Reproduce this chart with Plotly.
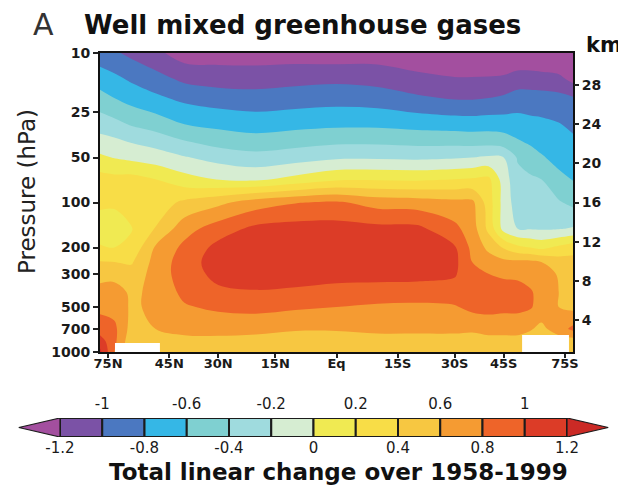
import numpy as np
import plotly.graph_objects as go

# ---------------- data ----------------
lat_deg = [90, 70, 60, 50, 40, 30, 20, 10, 0, -10, -20, -30, -35, -40, -45, -50, -55, -60, -70, -90]
pressure_hpa = [10, 15, 20, 30, 40, 50, 70, 100, 150, 200, 250, 300, 400, 500, 700, 850, 1000]

# total linear change 1958-1999, one profile per latitude (10 hPa -> 1000 hPa)
dT_profiles = [
    [-0.92, -0.69, -0.53, -0.29, -0.11, 0.04, 0.28, 0.22, 0.15, 0.21, 0.41, 0.52, 0.68, 0.75, 0.90, 1.10, 1.25],   # 90N
    [-0.97, -0.75, -0.60, -0.34, -0.14, -0.01, 0.26, 0.22, 0.14, 0.20, 0.40, 0.52, 0.70, 0.72, 0.85, 0.85, 0.80],  # 70N
    [-1.05, -0.83, -0.68, -0.42, -0.20, -0.05, 0.27, 0.30, 0.19, 0.25, 0.38, 0.47, 0.56, 0.57, 0.52, 0.45, 0.40],  # 60N
    [-1.15, -0.92, -0.76, -0.49, -0.26, -0.10, 0.20, 0.30, 0.41, 0.62, 0.67, 0.68, 0.65, 0.64, 0.60, 0.50, 0.45],  # 50N
    [-1.30, -1.04, -0.85, -0.60, -0.37, -0.185, 0.075, 0.44, 0.72, 0.85, 0.90, 0.90, 0.85, 0.78, 0.65, 0.55, 0.50],  # 40N
    [-1.30, -1.08, -0.90, -0.65, -0.46, -0.27, -0.01, 0.55, 0.90, 1.06, 1.10, 1.06, 0.96, 0.84, 0.66, 0.55, 0.50],  # 30N
    [-1.30, -1.09, -0.92, -0.69, -0.50, -0.33, -0.04, 0.70, 1.05, 1.15, 1.16, 1.12, 0.98, 0.87, 0.64, 0.55, 0.50],  # 20N
    [-1.30, -1.06, -0.90, -0.66, -0.46, -0.29, 0.06, 0.79, 1.08, 1.16, 1.16, 1.10, 0.96, 0.83, 0.61, 0.55, 0.52],  # 10N
    [-1.32, -1.04, -0.88, -0.64, -0.42, -0.23, 0.17, 0.83, 1.08, 1.15, 1.15, 1.08, 0.92, 0.80, 0.61, 0.55, 0.50],  # Eq
    [-1.30, -1.07, -0.90, -0.64, -0.42, -0.23, 0.18, 0.72, 1.06, 1.15, 1.15, 1.08, 0.90, 0.77, 0.63, 0.55, 0.50],  # 10S
    [-1.35, -1.14, -0.97, -0.67, -0.44, -0.24, 0.17, 0.70, 1.05, 1.14, 1.14, 1.07, 0.90, 0.76, 0.63, 0.55, 0.50],  # 20S
    [-1.40, -1.18, -1.02, -0.69, -0.44, -0.22, 0.20, 0.66, 0.85, 1.02, 1.05, 1.02, 0.92, 0.78, 0.63, 0.55, 0.50],  # 30S
    [-1.40, -1.18, -1.02, -0.70, -0.45, -0.20, 0.22, 0.65, 0.70, 0.75, 0.80, 0.86, 0.90, 0.86, 0.62, 0.55, 0.50],  # 35S
    [-1.45, -1.17, -1.00, -0.69, -0.45, -0.17, 0.25, 0.30, 0.35, 0.55, 0.70, 0.80, 0.90, 0.88, 0.65, 0.55, 0.50],  # 40S
    [-1.45, -1.15, -0.97, -0.70, -0.48, -0.20, -0.10, -0.08, -0.07, 0.38, 0.65, 0.77, 0.88, 0.86, 0.65, 0.55, 0.50],  # 45S
    [-1.40, -1.10, -0.92, -0.71, -0.57, -0.42, -0.34, -0.30, -0.20, 0.25, 0.65, 0.76, 0.87, 0.86, 0.65, 0.55, 0.50],  # 50S
    [-1.40, -1.10, -0.92, -0.74, -0.62, -0.50, -0.37, -0.31, -0.21, 0.20, 0.65, 0.73, 0.82, 0.82, 0.62, 0.50, 0.50],  # 55S
    [-1.40, -1.12, -0.92, -0.755, -0.66, -0.58, -0.40, -0.31, -0.22, 0.15, 0.60, 0.70, 0.74, 0.72, 0.55, 0.50, 0.50],  # 60S
    [-1.45, -1.14, -0.94, -0.79, -0.72, -0.66, -0.55, -0.38, -0.21, 0.24, 0.50, 0.58, 0.60, 0.60, 0.70, 0.50, 0.50],  # 70S
    [-1.50, -1.26, -0.98, -0.84, -0.76, -0.70, -0.61, -0.45, -0.18, 0.32, 0.47, 0.50, 0.52, 0.55, 0.85, 0.50, 0.50],  # 90S
]

# regions without data near the surface (shown white): latitude span and top pressure
nodata_lat_from = [69.5, -51.7]
nodata_lat_to = [48.3, -79.4]
nodata_p_top = [870, 770]
surface_p = 1000

level_start, level_end, level_step = -1.2, 1.2, 0.2
band_colors = ['#a34f9f', '#7b52a6', '#4b78c1', '#35b7e6', '#7fd0d1', '#9fdbde', '#d6edd2',
               '#f0ea52', '#f8dd47', '#f7c741', '#f59b32', '#ee6429', '#dc3c27', '#cb2a25']

lat_tick_deg = [75, 45, 30, 15, 0, -15, -30, -45, -75]
lat_tick_text = ['75N', '45N', '30N', '15N', 'Eq', '15S', '30S', '45S', '75S']
p_ticks = [10, 25, 50, 100, 200, 300, 500, 700, 1000]
km_ticks = [4, 8, 12, 16, 20, 24, 28]
cbar_low_ticks = [-1.2, -0.8, -0.4, 0, 0.4, 0.8, 1.2]
cbar_high_ticks = [-1, -0.6, -0.2, 0.2, 0.6, 1]

# ---------------- figure ----------------
# the page body adds an 8 px margin; the figure is sized/positioned to compensate
OFF = 8
W, H = 626 - OFF, 493 - OFF
def px_x(p): return (p - OFF) / W
def px_y(p): return 1 - (p - OFF) / H

sin_lat = np.sin(np.radians(lat_deg))
order = np.argsort(sin_lat)
z = np.array(dT_profiles).T[:, order]

nlev = int(round((level_end - level_start) / level_step)) + 1
cscale = [[k / nlev, band_colors[k]] for k in range(nlev + 1)]

TXT = '#1a1a1a'
FONT = 'DejaVu Sans'

fig = go.Figure()
fig.add_trace(go.Contour(
    x=sin_lat[order], y=pressure_hpa, z=z,
    contours=dict(start=level_start, end=level_end, size=level_step,
                  coloring='fill', showlines=False),
    colorscale=cscale, showscale=False,
    line=dict(width=0, smoothing=1.0), hoverinfo='skip'))

# no-data (below surface) areas as white bars from the top pressure down to the surface
s_from = np.sin(np.radians(nodata_lat_from))
s_to = np.sin(np.radians(nodata_lat_to))
fig.add_trace(go.Bar(x=(s_from + s_to) / 2, width=np.abs(s_from - s_to),
                     base=nodata_p_top, y=[surface_p - p for p in nodata_p_top],
                     marker=dict(color='white', line=dict(width=0)),
                     hoverinfo='skip', showlegend=False))

fig.add_trace(go.Scatter(x=[None], y=[None], yaxis='y2', showlegend=False, hoverinfo='skip'))

# colour bar built from the same levels
edges = np.round(np.linspace(level_start, level_end, nlev), 6)
centers = (edges[:-1] + edges[1:]) / 2
fig.add_trace(go.Bar(x=centers, y=[1] * len(centers), base=0, width=level_step,
                     marker=dict(color=band_colors[1:-1], line=dict(color='#1c1c1c', width=2)),
                     xaxis='x3', yaxis='y3', cliponaxis=False, hoverinfo='skip'))
ext = 0.195
fig.add_trace(go.Scatter(x=[level_start, level_start - ext, level_start, level_start],
                         y=[0, 0.5, 1, 0], fill='toself', fillcolor=band_colors[0],
                         mode='lines', line=dict(color='#1c1c1c', width=1.2),
                         xaxis='x3', yaxis='y3', cliponaxis=False, hoverinfo='skip'))
fig.add_trace(go.Scatter(x=[level_end, level_end + ext, level_end, level_end],
                         y=[0, 0.5, 1, 0], fill='toself', fillcolor=band_colors[-1],
                         mode='lines', line=dict(color='#1c1c1c', width=1.2),
                         xaxis='x3', yaxis='y3', cliponaxis=False, hoverinfo='skip'))
fig.add_trace(go.Scatter(x=[None], y=[None], xaxis='x4', yaxis='y3', hoverinfo='skip'))

cb_range = [level_start - 0.213, level_end + 0.213]

def ann(text, x, y, size, bold=False, angle=0, color='#111'):
    return dict(text=text, x=px_x(x), y=px_y(y), xref='paper', yref='paper',
                xanchor='center', yanchor='middle', showarrow=False, textangle=angle,
                font=dict(family=FONT, size=size, color=color,
                          weight='bold' if bold else 'normal'))

fig.update_layout(
    width=W, height=H, margin=dict(l=0, r=0, t=0, b=0, pad=0),
    paper_bgcolor='white', plot_bgcolor='white', showlegend=False,
    xaxis=dict(domain=[px_x(100), px_x(573)], anchor='y', range=[1, -1], automargin=False,
               tickvals=list(np.sin(np.radians(lat_tick_deg))), ticktext=lat_tick_text,
               ticks='outside', ticklen=4, tickwidth=1.5, tickcolor='#222',
               ticklabelstandoff=-6,
               showline=True, linewidth=2, linecolor='#111', mirror=True,
               showgrid=False, zeroline=False,
               tickfont=dict(family=FONT, size=13, color=TXT, weight='bold')),
    yaxis=dict(domain=[px_y(352), px_y(53)], anchor='x', type='log', range=[3, 1], automargin=False,
               tickvals=p_ticks, ticktext=[str(p) for p in p_ticks],
               ticks='outside', ticklen=5, tickwidth=1.5, tickcolor='#222',
               showline=True, linewidth=2, linecolor='#111', mirror=True,
               showgrid=False, zeroline=False,
               tickfont=dict(family=FONT, size=14, color=TXT, weight='bold')),
    yaxis2=dict(overlaying='y', side='right', anchor='x', range=[0.73, 31.27], automargin=False,
                tickvals=km_ticks, ticks='outside', ticklen=5, tickwidth=1.5, tickcolor='#222',
                showline=False, showgrid=False, zeroline=False,
                tickfont=dict(family=FONT, size=14, color=TXT, weight='bold')),
    xaxis3=dict(domain=[px_x(15), px_x(612)], anchor='y3', range=cb_range, automargin=False,
                tickvals=cbar_low_ticks, ticktext=[f'{v:g}' for v in cbar_low_ticks],
                ticks='', showline=False, showgrid=False, zeroline=False,
                tickfont=dict(family=FONT, size=15, color=TXT)),
    xaxis4=dict(overlaying='x3', side='top', anchor='y3', range=cb_range, automargin=False,
                tickvals=cbar_high_ticks, ticktext=[f'{v:g}' for v in cbar_high_ticks],
                ticks='', ticklabelstandoff=5, showline=False, showgrid=False, zeroline=False,
                tickfont=dict(family=FONT, size=15, color=TXT)),
    yaxis3=dict(domain=[px_y(437), px_y(418)], anchor='x3', range=[0, 1], visible=False,
                automargin=False),
    annotations=[
        ann('A', 43, 25, 30, color='#333'),
        ann('Well mixed greenhouse gases', 302, 25, 26, bold=True),
        ann('km', 604, 45, 21, bold=True),
        ann('Pressure (hPa)', 27, 192, 23, angle=-90, color='#222'),
        ann('Total linear change over 1958-1999', 338, 472, 23, bold=True),
    ],
)

fig.write_html('out.html')
